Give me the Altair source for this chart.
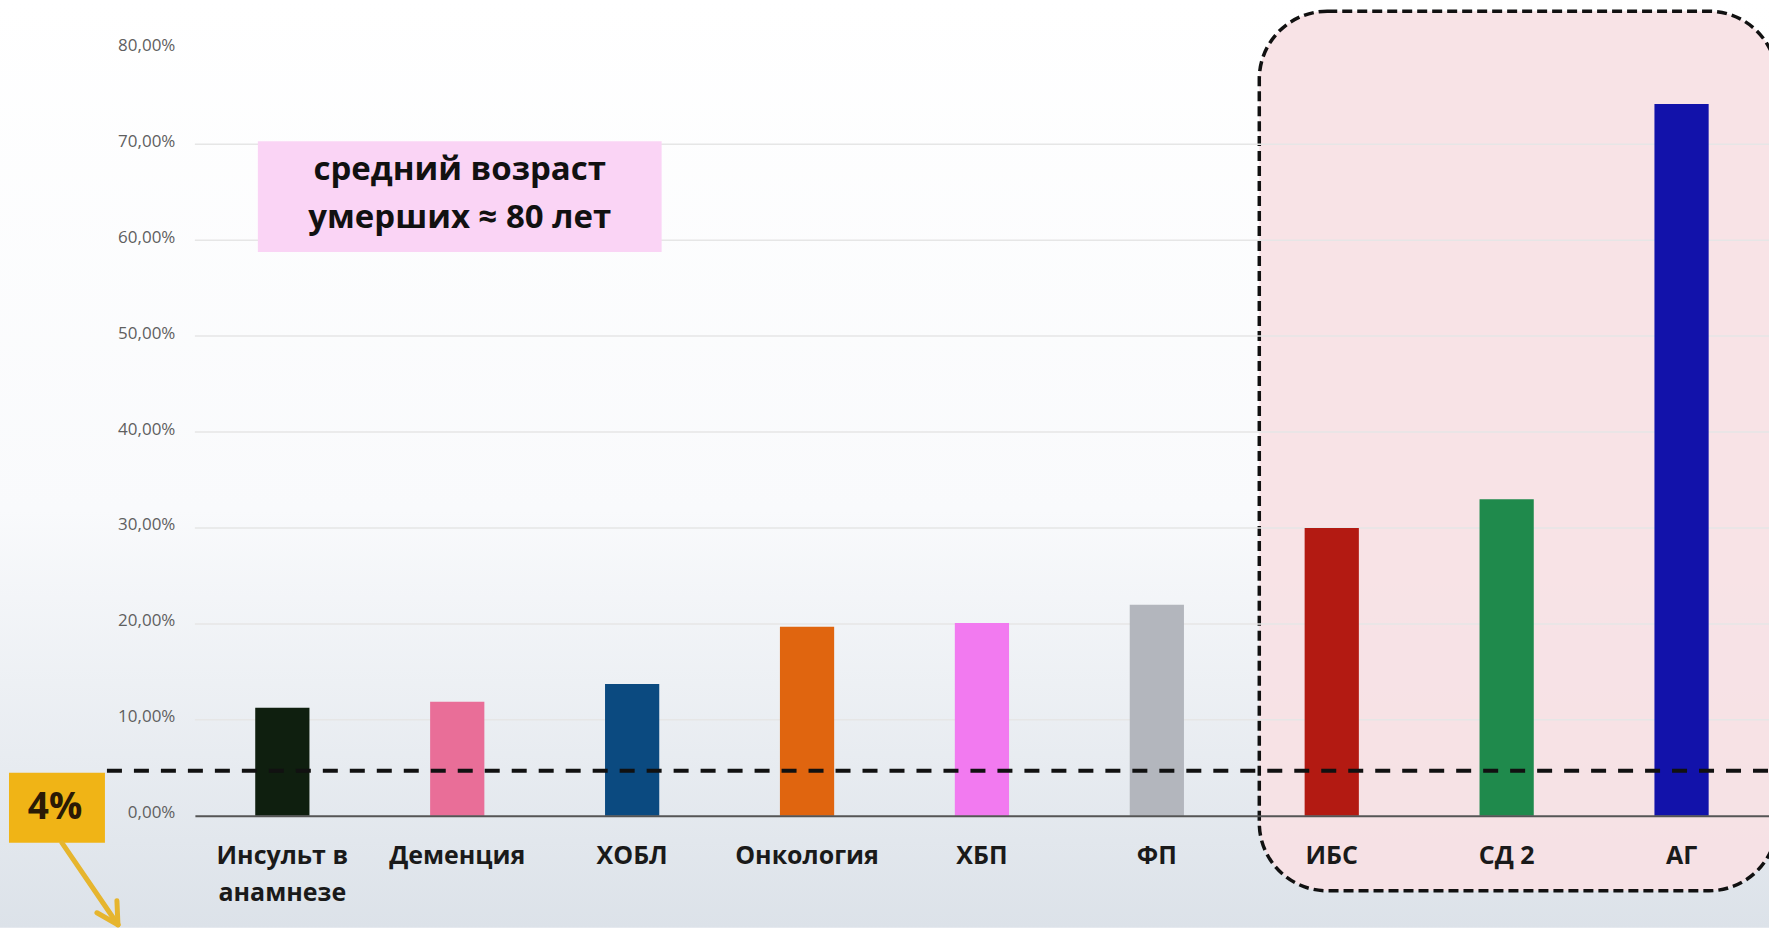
import altair as alt
import pandas as pd

# ---- data ----
categories = ["Инсульт в анамнезе", "Деменция", "ХОБЛ", "Онкология", "ХБП", "ФП", "ИБС", "СД 2", "АГ"]
values = [11.25, 11.9, 13.75, 19.7, 20.1, 22.0, 30.0, 33.0, 74.2]
bar_colors = ["#0f1f0f", "#e96e98", "#0b4a80", "#e0650f", "#f27af0", "#b3b6bd", "#b31a12", "#1f8a4c", "#1212aa"]
y_ticks = [0, 10, 20, 30, 40, 50, 60, 70, 80]
grid_ticks = [10, 20, 30, 40, 50, 60, 70]
threshold_value = 4.7
threshold_label = "4%"
note_lines = ["средний возраст", "умерших ≈ 80 лет"]

W, H = 1575, 768
LEFT, TOP = 195, 48
FONT = "Open Sans"

bars_df = pd.DataFrame({"cat": categories, "val": values, "col": bar_colors})
grid_df = pd.DataFrame({"t": grid_ticks})
one = pd.DataFrame({"a": [0]})

x_enc = alt.X(
    "cat:N",
    sort=categories,
    scale=alt.Scale(domain=categories, paddingInner=0.69, paddingOuter=0.345),
    axis=alt.Axis(
        title=None, labelAngle=0, ticks=False, domain=True, domainColor="#555555",
        domainWidth=2, labelFont=FONT, labelFontSize=25, labelFontWeight="bold",
        labelColor="#1a1a1a", labelPadding=28, labelBaseline="top", labelLineHeight=37,
        labelExpr="datum.label == 'Инсульт в анамнезе' ? ['Инсульт в', 'анамнезе'] : datum.label",
        zindex=1,
    ),
)
y_scale = alt.Scale(domain=[0, 80], nice=False, zero=True)
y_axis = alt.Axis(
    title=None, values=y_ticks, grid=False, domain=False, ticks=False,
    labelExpr="datum.value + ',00%'", labelFont=FONT, labelFontSize=17,
    labelColor="#5f5f5f", labelPadding=20, labelOffset=-3, zindex=1,
)

bg = alt.Chart(one).mark_rect(
    color=alt.Gradient(
        gradient="linear", x1=0, y1=0, x2=0, y2=1,
        stops=[alt.GradientStop(offset=0, color="#ffffff"),
               alt.GradientStop(offset=0.55, color="#f9fafc"),
               alt.GradientStop(offset=1, color="#dce2e9")],
    )
).encode(x=alt.value(-LEFT), x2=alt.value(W + 10), y=alt.value(-TOP), y2=alt.value(928 - TOP))

highlight = alt.Chart(one).mark_rect(
    fill="#f7e1e4", fillOpacity=0.92, stroke="#111111", strokeDash=[10, 5], strokeWidth=3.5,
    cornerRadius=68,
).encode(x=alt.value(1260 - LEFT), x2=alt.value(1778 - LEFT), y=alt.value(11 - TOP), y2=alt.value(891 - TOP))

grid = alt.Chart(grid_df).mark_rule(color="#e6e6e6", strokeWidth=1.5).encode(
    y=alt.Y("t:Q", scale=y_scale, axis=y_axis), x=alt.value(0), x2=alt.value(W)
)

bars = alt.Chart(bars_df).mark_bar().encode(
    x=x_enc,
    y=alt.Y("val:Q", scale=y_scale, axis=y_axis),
    color=alt.Color("col:N", scale=None),
)

thr = alt.Chart(one).mark_rule(color="#111111", strokeWidth=4, strokeDash=[15, 12]).encode(
    y=alt.datum(threshold_value),
    x=alt.value(107 - LEFT), x2=alt.value(W),
)

note_box = alt.Chart(one).mark_rect(fill="#fad4f5").encode(
    x=alt.value(258 - LEFT), x2=alt.value(662 - LEFT), y=alt.value(141 - TOP), y2=alt.value(252 - TOP)
)
note1 = alt.Chart(one).mark_text(
    text=note_lines[0], font=FONT, fontSize=33, fontWeight="bold", color="#111111", align="center", baseline="middle"
).encode(x=alt.value(460 - LEFT), y=alt.value(170 - TOP))
note2 = alt.Chart(one).mark_text(
    text=note_lines[1], font=FONT, fontSize=33, fontWeight="bold", color="#111111", align="center", baseline="middle"
).encode(x=alt.value(460 - LEFT), y=alt.value(218 - TOP))

ybox = alt.Chart(one).mark_rect(fill="#f0b416").encode(
    x=alt.value(9 - LEFT), x2=alt.value(105 - LEFT), y=alt.value(773 - TOP), y2=alt.value(843 - TOP)
)
ytext = alt.Chart(one).mark_text(
    text=threshold_label, font=FONT, fontSize=37, fontWeight="bold", color="#2a1a05", align="center", baseline="middle"
).encode(x=alt.value(55 - LEFT), y=alt.value(808 - TOP))

arrow_color = "#e6b52e"
arrow = alt.Chart(one).mark_rule(color=arrow_color, strokeWidth=5, strokeCap="round").encode(
    x=alt.value(62 - LEFT), y=alt.value(843 - TOP), x2=alt.value(118 - LEFT), y2=alt.value(925 - TOP)
)
head1 = alt.Chart(one).mark_rule(color=arrow_color, strokeWidth=5, strokeCap="round").encode(
    x=alt.value(118 - LEFT), y=alt.value(925 - TOP), x2=alt.value(117 - LEFT), y2=alt.value(901 - TOP)
)
head2 = alt.Chart(one).mark_rule(color=arrow_color, strokeWidth=5, strokeCap="round").encode(
    x=alt.value(118 - LEFT), y=alt.value(925 - TOP), x2=alt.value(97 - LEFT), y2=alt.value(913 - TOP)
)

chart = alt.layer(
    bg, highlight, grid, bars, thr, note_box, note1, note2, ybox, ytext, arrow, head1, head2
).properties(
    width=W, height=H,
    autosize=alt.AutoSizeParams(type="none"),
    padding={"left": LEFT, "top": TOP, "right": 0, "bottom": 928 - TOP - H},
    background="#ffffff",
).configure_view(stroke=None)

chart.save("out.html", embed_options={"renderer": "svg", "actions": False})
